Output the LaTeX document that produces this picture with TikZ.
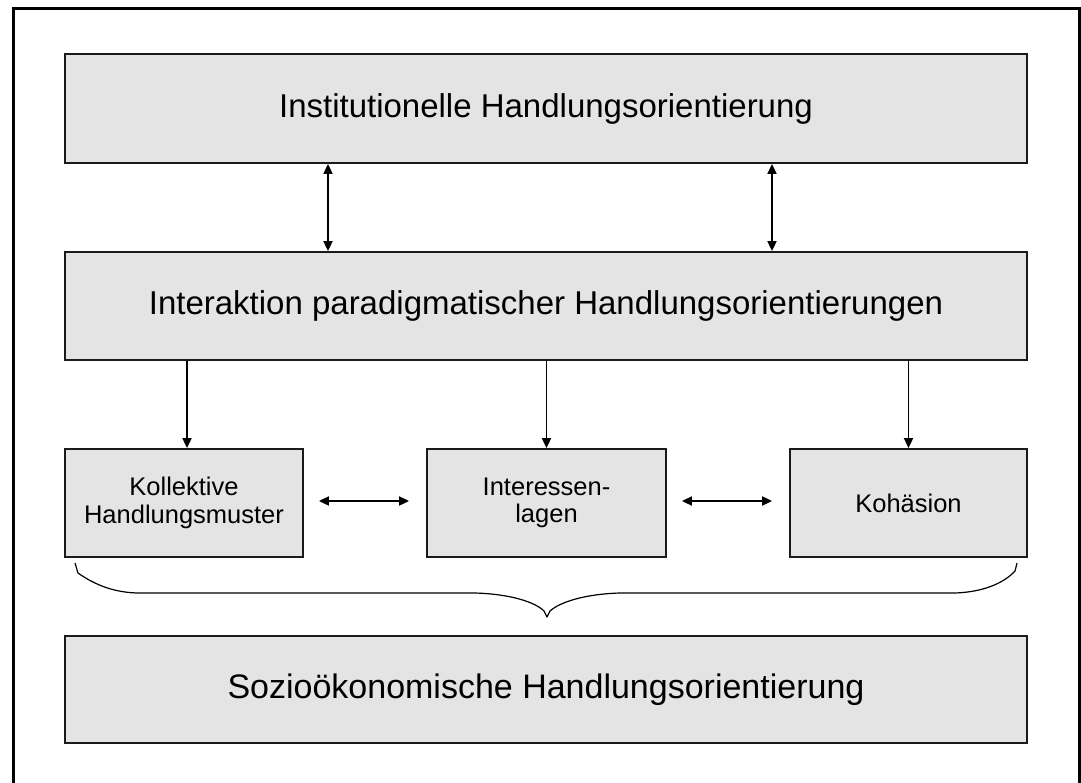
\documentclass[tikz,border=0pt]{standalone}
\usepackage{fontspec}
\setmainfont{Liberation Sans}
\usetikzlibrary{arrows.meta}
\definecolor{boxfill}{HTML}{E4E4E4}
\definecolor{boxline}{HTML}{1A1A1A}
\tikzset{
  bigbox/.style={draw=boxline, line width=1.8pt, fill=boxfill, rectangle,
    minimum width=962pt, inner sep=0pt,
    font=\fontsize{33}{40}\selectfont},
  smallbox/.style={draw=boxline, line width=1.8pt, fill=boxfill, rectangle,
    minimum height=108pt, inner sep=0pt, align=center,
    font=\fontsize{25.5}{27.5}\selectfont},
  link/.style={line width=1.8pt, -{Triangle[length=10pt,width=9pt]}},
  dlink/.style={line width=1.8pt, {Triangle[length=10pt,width=9pt]}-{Triangle[length=10pt,width=9pt]}},
  bracepath/.style={line width=1.2pt, line join=round}
}
\begin{document}
\begin{tikzpicture}[x=1pt,y=-1pt]
\useasboundingbox (0,0) rectangle (1081,782);
\clip (0,0) rectangle (1081,782);

% outer frame, open at the lower edge
\draw[line width=3.5pt] (13.5,795) -- (13.5,8.5) -- (1079.5,8.5) -- (1079.5,795);

% levels
\node[bigbox, minimum height=109pt] (inst) at (546,108.5) {Institutionelle Handlungsorientierung};
\node[bigbox, minimum height=108pt] (inter) at (546,306) {Interaktion paradigmatischer Handlungsorientierungen};
\node[smallbox, minimum width=238pt] (koll) at (184,503) {Kollektive\\Handlungsmuster};
\node[smallbox, minimum width=239pt] (lagen) at (546.5,503) {Interessen-\\lagen};
\node[smallbox, minimum width=237pt] (koh) at (908.5,503) {Kohäsion};
\node[bigbox, minimum height=107pt, font=\fontsize{34}{40}\selectfont] (sozio) at (546,689.5) {Sozioökonomische Handlungsorientierung};

% mutual influence between the two upper levels
\draw[dlink] (328,0 |- inst.south) -- (328,0 |- inter.north);
\draw[dlink] (772,0 |- inst.south) -- (772,0 |- inter.north);

% interaction feeds the three components
\draw[link] (187,0 |- inter.south) -- (187,0 |- koll.north);
\draw[link] (inter.south -| lagen.north) -- (lagen.north);
\draw[link] (inter.south -| koh.north) -- (koh.north);

% relations among the components
\draw[dlink] ([xshift=15pt,yshift=2pt]koll.east) -- ([xshift=-17pt,yshift=2pt]lagen.west);
\draw[dlink] ([xshift=15pt,yshift=2pt]lagen.east) -- ([xshift=-17pt,yshift=2pt]koh.west);

% curly brace gathering the components
\draw[bracepath] (75,563) -- (78,573) .. controls (95,585) and (115,593) .. (140,593)
  -- (475,593) .. controls (510,594) and (535,602) .. (544,611) -- (547,617)
  -- (550,611) .. controls (560,602) and (585,594) .. (620,593)
  -- (955,593) .. controls (985,592) and (1005,582) .. (1015,571) -- (1017,563);
\end{tikzpicture}
\end{document}
